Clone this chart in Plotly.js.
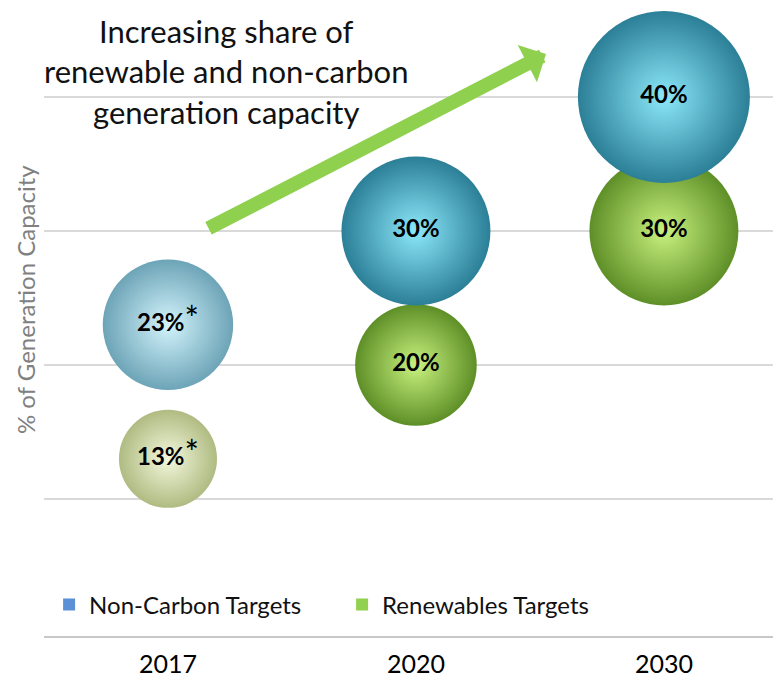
<!DOCTYPE html>
<html>
<head>
<meta charset="utf-8">
<script src="https://cdn.plot.ly/plotly-3.0.1.min.js"></script>
<style>html,body{margin:0;padding:0;background:#fff;}#chart{width:773px;height:681px;}</style>
</head>
<body>
<div id="chart"></div>
<script>
// ---- data ----
var years = ['2017', '2020', '2030'];
var yearIndex = [0, 1, 2];
var nonCarbonTargets = [23, 30, 40];
var renewablesTargets = [13, 20, 30];
var estimateFlags = [true, false, false];   // values marked with * in the chart
var gridValues = [10, 20, 30, 40];

function labels(vals) {
  return vals.map(function (v, i) {
    return '<b>' + v + '%</b>' + (estimateFlags[i] ? '<span style="font-size:34px">*</span>' : '');
  });
}

var FONT = 'Lato, "Open Sans", sans-serif';
var sizeref = 2 * 40 / (172 * 172);

var renew = {
  type: 'scatter', mode: 'markers+text', name: 'Renewables Targets', showlegend: false,
  x: yearIndex, y: renewablesTargets, text: labels(renewablesTargets),
  textposition: 'middle center', cliponaxis: false,
  textfont: {family: FONT, size: 24, color: '#000'},
  marker: {
    size: renewablesTargets, sizemode: 'area', sizeref: sizeref,
    color: ['#b0bb82', '#5e8f27', '#5e8f27'],
    gradient: {type: 'radial', color: ['#f3f8dc', '#c9f27f', '#c9f27f']},
    line: {width: 0}, opacity: 1
  },
  hoverinfo: 'skip'
};
var nonc = {
  type: 'scatter', mode: 'markers+text', name: 'Non-Carbon Targets', showlegend: false,
  x: yearIndex, y: nonCarbonTargets, text: labels(nonCarbonTargets),
  textposition: 'middle center', cliponaxis: false,
  textfont: {family: FONT, size: 24, color: '#000'},
  marker: {
    size: nonCarbonTargets, sizemode: 'area', sizeref: sizeref,
    color: ['#6da4b7', '#2b7f97', '#2b7f97'],
    gradient: {type: 'radial', color: ['#d3f4fc', '#8ce8fa', '#8ce8fa']},
    line: {width: 0}, opacity: 1
  },
  hoverinfo: 'skip'
};
var legNon = {
  type: 'scatter', mode: 'markers', name: 'Non-Carbon Targets', x: [null], y: [null],
  marker: {symbol: 'square', size: 13, color: '#5b8fd6'}, legendrank: 1
};
var legRen = {
  type: 'scatter', mode: 'markers', name: 'Renewables Targets', x: [null], y: [null],
  marker: {symbol: 'square', size: 13, color: '#92d050'}, legendrank: 2
};

var layout = {
  width: 773, height: 681,
  margin: {l: 44, r: 0, t: 0, b: 45},
  paper_bgcolor: '#fff', plot_bgcolor: '#fff',
  font: {family: FONT, color: '#000'},
  showlegend: true,
  legend: {
    orientation: 'h', x: 0.007, xanchor: 'left', y: 0.049, yanchor: 'middle',
    font: {family: FONT, size: 24, color: '#111'}, bgcolor: 'rgba(0,0,0,0)',
    itemsizing: 'constant', traceorder: 'normal',
    entrywidth: 248, entrywidthmode: 'pixels'
  },
  xaxis: {
    range: [-0.5, 2.44], tickvals: yearIndex, ticktext: years,
    showgrid: false, zeroline: false, showline: true, linecolor: '#c8c8c8', linewidth: 2,
    ticks: '', ticklabelstandoff: 5,
    tickfont: {family: FONT, size: 25, color: '#000'}, fixedrange: true
  },
  yaxis: {
    range: [-0.22, 47.24], tickvals: gridValues, showticklabels: false,
    showgrid: true, gridcolor: '#d9d9d9', gridwidth: 2, zeroline: false, showline: false,
    ticks: '', fixedrange: true
  },
  annotations: [
    {
      xref: 'paper', yref: 'paper', x: 0.25, y: 0.887, xanchor: 'center', yanchor: 'middle',
      text: 'Increasing share of<br>renewable and non-carbon<br>generation capacity',
      showarrow: false, align: 'center',
      font: {family: FONT, size: 31, color: '#111'}
    },
    {
      xref: 'paper', yref: 'paper', x: 0.6886, y: 0.915, text: '',
      showarrow: true, ax: -339, ay: 175, axref: 'pixel', ayref: 'pixel',
      arrowcolor: '#8fd14f', arrowwidth: 14, arrowhead: 1, arrowsize: 0.5, standoff: 0
    },
    {
      xref: 'paper', yref: 'y', x: 0, y: 24.85, xshift: -19, textangle: -90,
      xanchor: 'center', yanchor: 'middle',
      text: '% of Generation Capacity', showarrow: false,
      font: {family: FONT, size: 24, color: '#808080'}
    }
  ]
};

Plotly.newPlot('chart', [renew, nonc, legNon, legRen], layout, {staticPlot: true, displayModeBar: false});
</script>
</body>
</html>
